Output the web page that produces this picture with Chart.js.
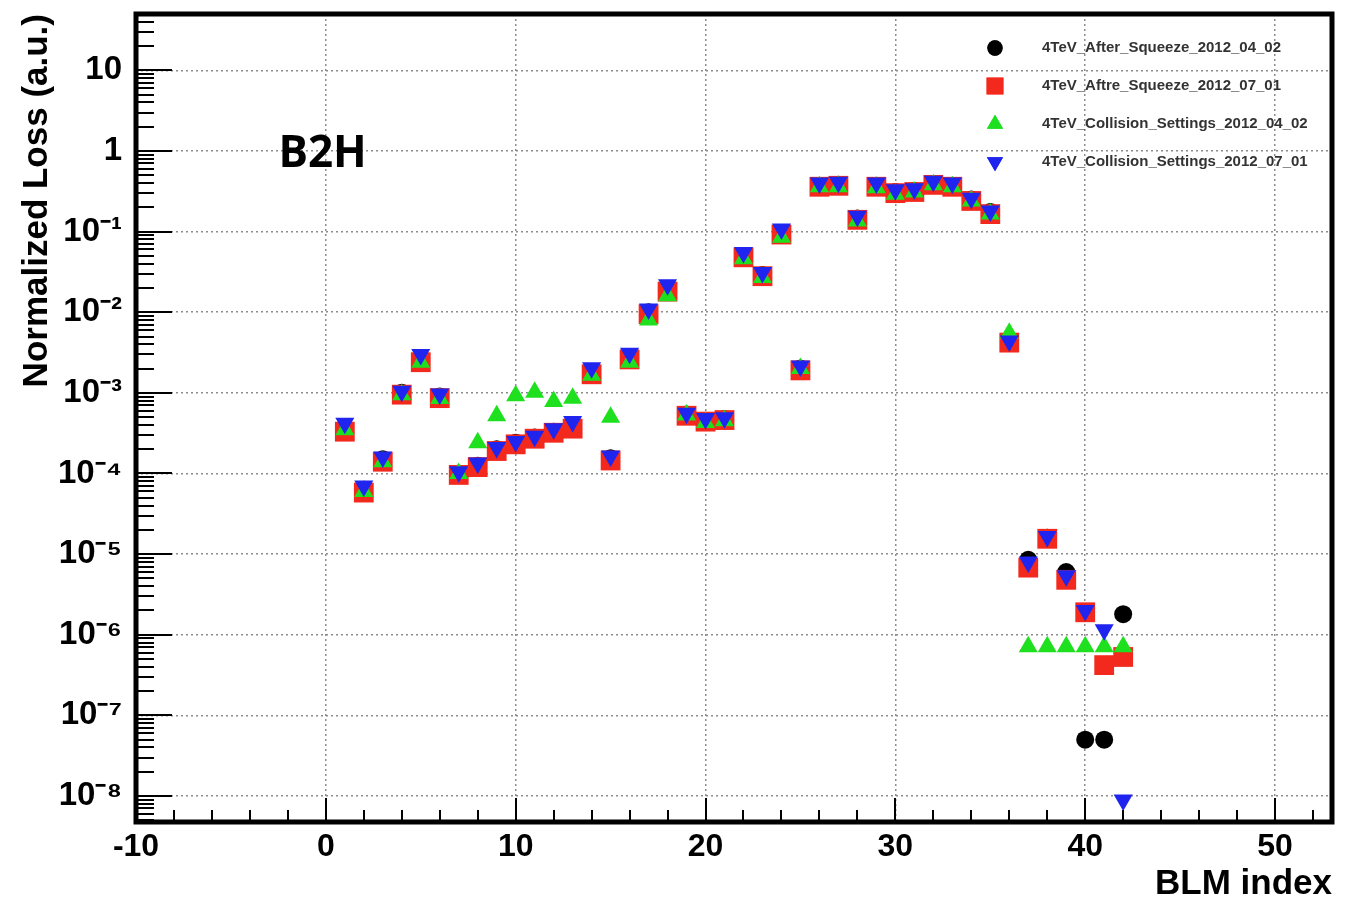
<!DOCTYPE html>
<html>
<head>
<meta charset="utf-8">
<title>B2H normalized loss</title>
<script src="https://cdn.jsdelivr.net/npm/chart.js@4.4.1/dist/chart.umd.min.js"></script>
<style>
  html, body { margin: 0; padding: 0; background: #fff; }
  #wrap { width: 1356px; height: 905px; }
</style>
</head>
<body>
<div id="wrap"><canvas id="lossChart" width="1356" height="905"></canvas></div>
<script>
// BLM index (x) for every series
const blmIndex = [1,2,3,4,5,6,7,8,9,10,11,12,13,14,15,16,17,18,19,20,21,22,23,24,25,26,27,28,29,30,31,32,33,34,35,36,37,38,39,40,41,42];

const afterSqueeze0402 = [3.6e-4,6.3e-5,1.5e-4,1.0e-3,2.6e-3,9.0e-4,1.0e-4,1.25e-4,2.0e-4,2.4e-4,2.8e-4,3.3e-4,3.9e-4,1.8e-3,1.55e-4,2.7e-3,1.0e-2,1.9e-2,5.4e-4,4.5e-4,4.7e-4,5.0e-2,2.9e-2,9.5e-2,2.0e-3,0.37,0.38,0.145,0.37,0.31,0.32,0.39,0.37,0.25,0.175,4.5e-3,8.5e-6,1.6e-5,6.0e-6,5.0e-8,5.0e-8,1.8e-6];
const afterSqueeze0701 = [3.3e-4,5.8e-5,1.4e-4,9.5e-4,2.4e-3,8.6e-4,9.6e-5,1.2e-4,1.9e-4,2.3e-4,2.7e-4,3.2e-4,3.6e-4,1.7e-3,1.45e-4,2.6e-3,9.5e-3,1.8e-2,5.2e-4,4.4e-4,4.6e-4,4.8e-2,2.8e-2,9.2e-2,1.9e-3,0.36,0.37,0.14,0.36,0.30,0.31,0.38,0.36,0.24,0.165,4.2e-3,6.8e-6,1.55e-5,4.8e-6,1.9e-6,4.2e-7,5.3e-7];
const collision0402 = [3.5e-4,6.0e-5,1.4e-4,9.5e-4,2.4e-3,8.5e-4,1.0e-4,2.4e-4,5.2e-4,9.2e-4,1.02e-3,7.8e-4,8.6e-4,1.65e-3,5.0e-4,2.4e-3,8.0e-3,1.6e-2,5.3e-4,4.3e-4,4.5e-4,4.6e-2,2.7e-2,8.5e-2,2.0e-3,0.36,0.36,0.135,0.35,0.29,0.31,0.38,0.36,0.24,0.165,5.5e-3,7.1e-7,7.1e-7,7.1e-7,7.1e-7,7.1e-7,7.1e-7];
const collision0701 = [4.2e-4,7.0e-5,1.6e-4,1.05e-3,3.0e-3,9.7e-4,1.05e-4,1.35e-4,2.1e-4,2.5e-4,2.9e-4,3.6e-4,4.4e-4,2.05e-3,1.65e-4,3.1e-3,1.1e-2,2.2e-2,5.6e-4,4.8e-4,4.9e-4,5.5e-2,3.1e-2,1.08e-1,2.15e-3,0.40,0.41,0.155,0.40,0.33,0.34,0.42,0.40,0.26,0.18,4.4e-3,8.0e-6,1.65e-5,5.4e-6,2.0e-6,1.15e-6,8.9e-9];

const seriesNames = [
  '4TeV_After_Squeeze_2012_04_02',
  '4TeV_Aftre_Squeeze_2012_07_01',
  '4TeV_Collision_Settings_2012_04_02',
  '4TeV_Collision_Settings_2012_07_01'
];

const xTickValues = [-10, 0, 10, 20, 30, 40, 50];
const yTickValues = [1e-8, 1e-7, 1e-6, 1e-5, 1e-4, 1e-3, 1e-2, 1e-1, 1, 10];
const yTickLabels = ['10\u207B\u2078', '10\u207B\u2077', '10\u207B\u2076', '10\u207B\u2075', '10\u207B\u2074',
                     '10\u207B\u00B3', '10\u207B\u00B2', '10\u207B\u00B9', '1', '10'];

const panelLabel = 'B2H';

function pts(vals) {
  return vals.map((v, i) => ({ x: blmIndex[i], y: v }));
}

const FONT = '"Liberation Sans", Arial, Helvetica, sans-serif';

// draws frame, ROOT-like inner ticks, panel label and the legend
const rootFrame = {
  id: 'rootFrame',
  afterDatasetsDraw(chart) {
    const { ctx, chartArea: a, scales } = chart;
    const x = scales.x, y = scales.y;
    ctx.save();
    ctx.strokeStyle = '#000';
    ctx.lineWidth = 2;
    for (let e = -9; e <= 1; e++) {
      for (let m = 1; m <= 9; m++) {
        const v = m * Math.pow(10, e);
        if (v < y.min || v > y.max) continue;
        const py = Math.round(y.getPixelForValue(v));
        ctx.beginPath();
        ctx.moveTo(a.left, py);
        ctx.lineTo(a.left + (m === 1 ? 36 : 18), py);
        ctx.stroke();
      }
    }
    for (let v = -10; v <= x.max; v += 2) {
      const px = Math.round(x.getPixelForValue(v));
      ctx.beginPath();
      ctx.moveTo(px, a.bottom);
      ctx.lineTo(px, a.bottom - (v % 10 === 0 ? 24 : 12));
      ctx.stroke();
    }
    ctx.lineWidth = 5;
    ctx.strokeRect(a.left, a.top, a.right - a.left, a.bottom - a.top);

    // panel label
    ctx.fillStyle = '#000';
    ctx.font = 'bold 44px "Open Sans", ' + FONT;
    ctx.textAlign = 'left';
    ctx.textBaseline = 'alphabetic';
    ctx.fillText(panelLabel, x.getPixelForValue(-2.5), y.getPixelForValue(0.64));

    // legend
    ctx.font = 'bold 15px ' + FONT;
    ctx.textBaseline = 'middle';
    chart.data.datasets.forEach((ds, i) => {
      const ly = a.top + 34 + i * 38;
      const lx = a.right - 337;
      ctx.fillStyle = ds.backgroundColor;
      Chart.helpers.drawPoint(ctx, {
        pointStyle: ds.pointStyle,
        radius: ds.pointRadius * 0.85,
        rotation: ds.rotation || 0,
        borderWidth: 0
      }, lx, ly);
      ctx.fill();
      ctx.fillStyle = '#333';
      ctx.fillText(ds.label, lx + 47, ly);
    });
    ctx.restore();
  }
};

new Chart(document.getElementById('lossChart'), {
  type: 'scatter',
  data: {
    datasets: [
      { label: seriesNames[0], data: pts(afterSqueeze0402), backgroundColor: '#000000', borderColor: '#000000',
        pointStyle: 'circle', pointRadius: 9, order: 4 },
      { label: seriesNames[1], data: pts(afterSqueeze0701), backgroundColor: '#f2291c', borderColor: '#f2291c',
        pointStyle: 'rect', pointRadius: 14, order: 3 },
      { label: seriesNames[2], data: pts(collision0402), backgroundColor: '#1fe01f', borderColor: '#1fe01f',
        pointStyle: 'triangle', pointRadius: 11, order: 2 },
      { label: seriesNames[3], data: pts(collision0701), backgroundColor: '#1f25ee', borderColor: '#1f25ee',
        pointStyle: 'triangle', rotation: 180, pointRadius: 11, order: 1 }
    ]
  },
  options: {
    responsive: false,
    animation: false,
    devicePixelRatio: 1,
    layout: { padding: { top: 14, right: 24, left: 0, bottom: 0 } },
    elements: { point: { borderWidth: 0, hoverRadius: 0 } },
    plugins: {
      legend: { display: false },
      tooltip: { enabled: false }
    },
    scales: {
      x: {
        type: 'linear',
        min: -10,
        max: 53,
        afterBuildTicks: (s) => { s.ticks = xTickValues.map(v => ({ value: v })); },
        afterFit: (s) => { s.height = 83; s.paddingLeft = 0; s.paddingRight = 0; },
        grid: { color: '#8c8c8c', lineWidth: 1.5, drawTicks: false },
        border: { display: false, dash: [2, 3] },
        ticks: {
          autoSkip: false, maxRotation: 0, padding: 6, color: '#000',
          font: { family: FONT, size: 32, weight: 'bold' }
        },
        title: {
          display: true, text: 'BLM index', align: 'end', color: '#000',
          font: { family: FONT, size: 35, weight: 'bold' },
          padding: { top: 0, bottom: 0 }
        }
      },
      y: {
        type: 'logarithmic',
        min: 4.76e-9,
        max: 50,
        afterBuildTicks: (s) => { s.ticks = yTickValues.map(v => ({ value: v })); },
        afterFit: (s) => { s.width = 136; s.paddingTop = 0; s.paddingBottom = 0; },
        grid: { color: '#8c8c8c', lineWidth: 1.5, drawTicks: false },
        border: { display: false, dash: [2, 3] },
        ticks: {
          autoSkip: false, padding: 14, color: '#000',
          font: { family: FONT, size: 33, weight: 'bold' },
          callback: (v) => {
            const i = yTickValues.findIndex(t => Math.abs(Math.log10(t) - Math.log10(v)) < 1e-6);
            return i >= 0 ? yTickLabels[i] : '';
          }
        },
        title: {
          display: true, text: 'Normalized Loss (a.u.)', align: 'end', color: '#000',
          font: { family: FONT, size: 35, weight: 'bold' },
          padding: { top: 16, bottom: 0 }
        }
      }
    }
  },
  plugins: [rootFrame]
});
</script>
</body>
</html>
